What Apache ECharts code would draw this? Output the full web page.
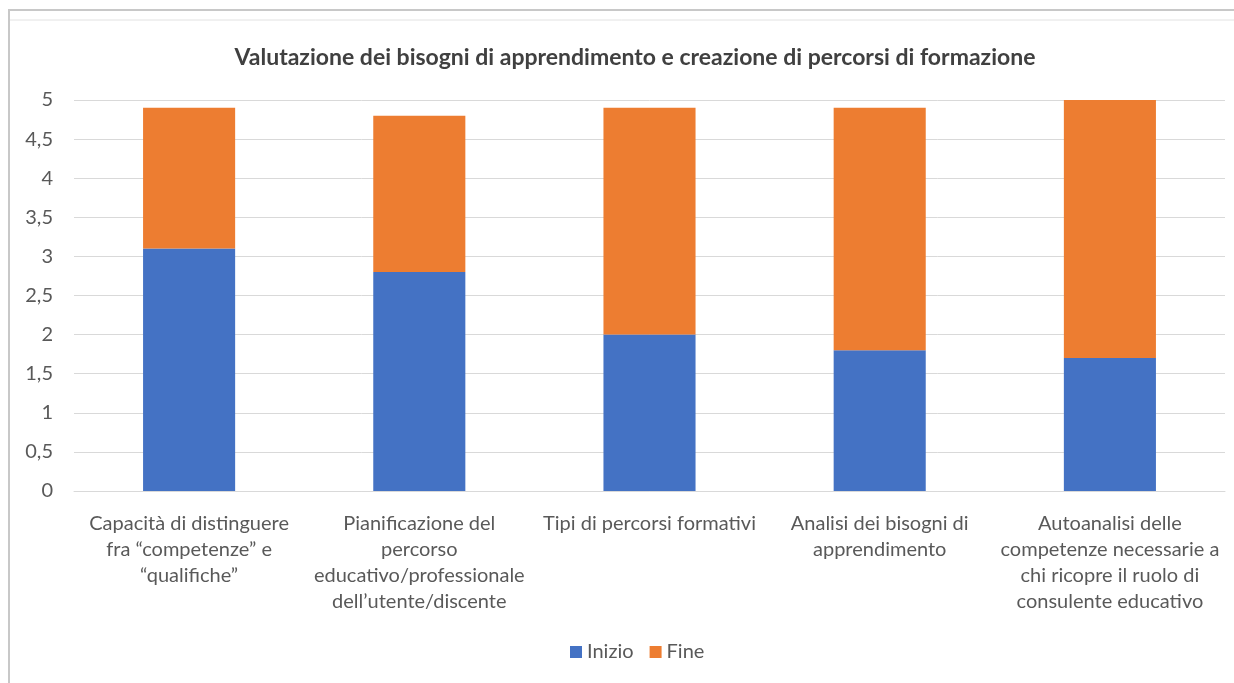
<!DOCTYPE html>
<html lang="it">
<head>
    <meta charset="utf-8">
    <title>Valutazione dei bisogni di apprendimento</title>
    <script src="https://cdn.jsdelivr.net/npm/echarts@6/dist/echarts.min.js"></script>
    <style>
        html, body { margin: 0; padding: 0; background: #fff; }
        #main { width: 1234px; height: 683px; }
    </style>
</head>
<body>
<div id="main"></div>
<script type="text/javascript">
    // categorie (con a capo come nel grafico originale)
    var categorie = [
        'Capacità di distinguere\nfra “competenze” e\n“qualifiche”',
        'Pianificazione del\npercorso\neducativo/professionale\ndell’utente/discente',
        'Tipi di percorsi formativi',
        'Analisi dei bisogni di\napprendimento',
        'Autoanalisi delle\ncompetenze necessarie a\nchi ricopre il ruolo di\nconsulente educativo'
    ];
    var inizio = [3.1, 2.8, 2.0, 1.8, 1.7];
    var fine = [1.8, 2.0, 2.9, 3.1, 3.3];
    var tickLabels = ['0', '0,5', '1', '1,5', '2', '2,5', '3', '3,5', '4', '4,5', '5'];

    var font = "Lato, 'Open Sans', sans-serif";
    var chart = echarts.init(document.getElementById('main'));

    var option = {
        animation: false,
        title: {
            text: 'Valutazione dei bisogni di apprendimento e creazione di percorsi di formazione',
            left: 630,
            textAlign: 'center',
            top: 41,
            textStyle: {
                color: '#404040',
                fontFamily: font,
                fontWeight: 'bold',
                fontSize: 23
            }
        },
        legend: {
            data: ['Inizio', 'Fine'],
            left: 565,
            top: 637,
            itemWidth: 12,
            itemHeight: 12,
            itemGap: 16,
            icon: 'rect',
            textStyle: { color: '#595959', fontFamily: font, fontSize: 20 }
        },
        grid: { left: 74, right: 9, top: 100, bottom: 192, containLabel: false },
        xAxis: {
            type: 'category',
            data: categorie,
            axisLine: { lineStyle: { color: '#d9d9d9', width: 1 } },
            axisTick: { show: false },
            axisLabel: {
                interval: 0,
                margin: 20,
                color: '#595959',
                fontFamily: font,
                fontSize: 20,
                lineHeight: 26,
                align: 'center'
            }
        },
        yAxis: {
            type: 'value',
            min: 0,
            max: 5,
            interval: 0.5,
            axisLine: { show: false },
            axisTick: { show: false },
            splitLine: { lineStyle: { color: '#d9d9d9', width: 1 } },
            axisLabel: {
                margin: 21,
                color: '#595959',
                fontFamily: font,
                fontSize: 20,
                formatter: function (v) {
                    return tickLabels[Math.round(v * 2)];
                }
            }
        },
        series: [
            {
                name: 'Inizio',
                type: 'bar',
                stack: 'tot',
                barWidth: '40%',
                data: inizio,
                itemStyle: { color: '#4472C4' }
            },
            {
                name: 'Fine',
                type: 'bar',
                stack: 'tot',
                barWidth: '40%',
                data: fine,
                itemStyle: { color: '#ED7D31' }
            }
        ],
        // cornice grigia della schermata originale
        graphic: [
            { type: 'line', shape: { x1: 8, y1: 10, x2: 1234, y2: 10 }, style: { stroke: '#c8c8c8', lineWidth: 2 }, silent: true },
            { type: 'line', shape: { x1: 9, y1: 20, x2: 1234, y2: 20 }, style: { stroke: '#e2e2e2', lineWidth: 1 }, silent: true },
            { type: 'line', shape: { x1: 9, y1: 10, x2: 9, y2: 683 }, style: { stroke: '#c8c8c8', lineWidth: 2 }, silent: true }
        ]
    };
    chart.setOption(option);
</script>
</body>
</html>
